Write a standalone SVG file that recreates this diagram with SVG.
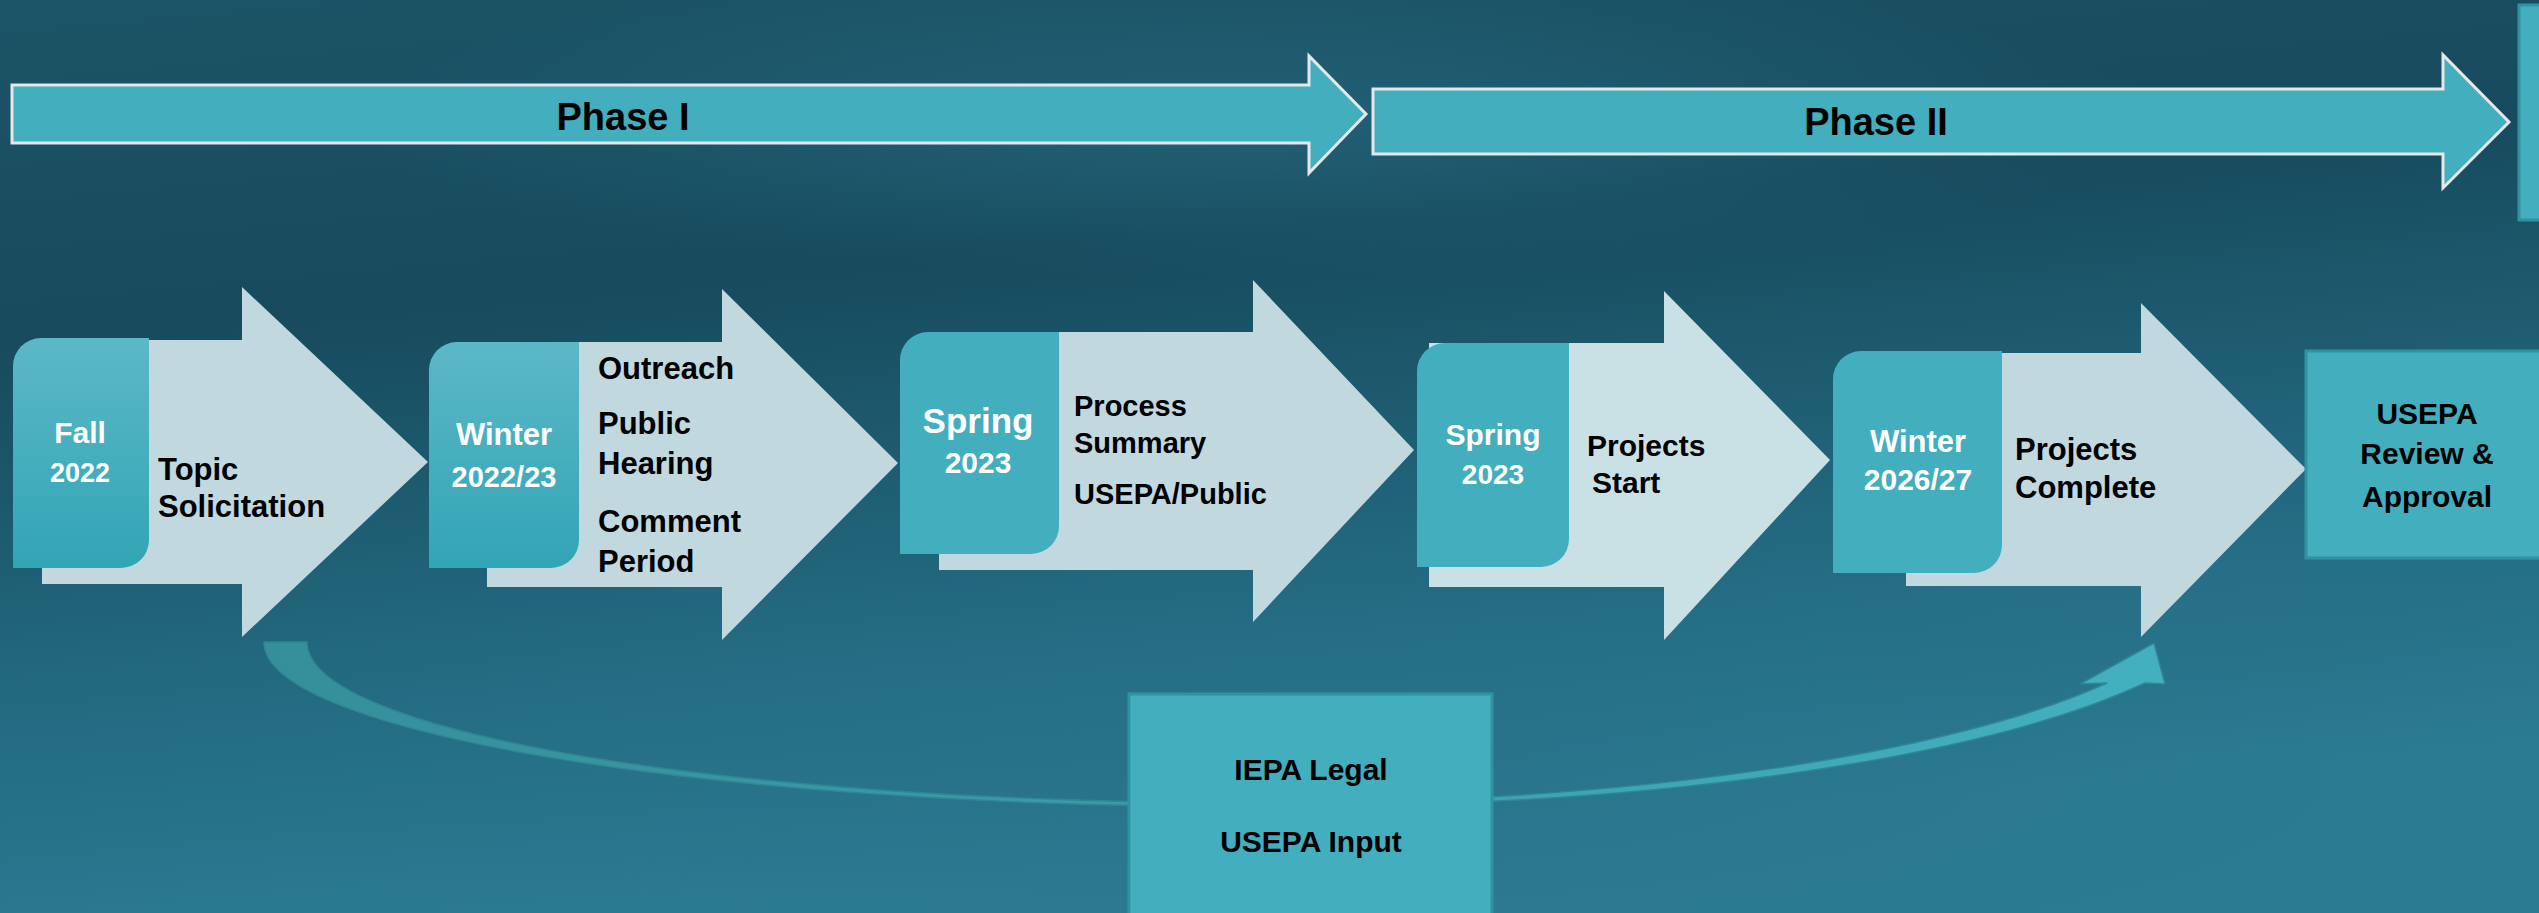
<svg xmlns="http://www.w3.org/2000/svg" width="2539" height="913" viewBox="0 0 2539 913">
<defs>
<linearGradient id="bg" x1="0" y1="0" x2="0.25" y2="1">
<stop offset="0" stop-color="#1c5567"/>
<stop offset="0.35" stop-color="#174a5c"/>
<stop offset="0.7" stop-color="#22687e"/>
<stop offset="1" stop-color="#2a7c93"/>
</linearGradient>
<radialGradient id="glow1" cx="0.5" cy="0.5" r="0.5">
<stop offset="0" stop-color="#2a7088" stop-opacity="0.55"/>
<stop offset="1" stop-color="#2a7088" stop-opacity="0"/>
</radialGradient>
<linearGradient id="boxg" x1="0" y1="0" x2="0" y2="1">
<stop offset="0" stop-color="#5cb8c7"/>
<stop offset="1" stop-color="#31a5b5"/>
</linearGradient>
<linearGradient id="curveg" x1="264" y1="0" x2="2165" y2="0" gradientUnits="userSpaceOnUse">
<stop offset="0" stop-color="#358f9b"/>
<stop offset="0.5" stop-color="#3a9dab"/>
<stop offset="1" stop-color="#43b0c0"/>
</linearGradient>
<style>
.phase{fill:#42aebe;stroke:#e4e8e8;stroke-width:3}
.chev{fill:#c0d8de}
.chev2{fill:#c9e0e5}
.box{fill:#42aebe}
.boxg{fill:url(#boxg)}
.sq{fill:#42aebe;stroke:#2f93a1;stroke-width:3}
.t{font-family:"Liberation Sans",Arial,sans-serif;font-weight:bold;fill:#000}
.w{font-family:"Liberation Sans",Arial,sans-serif;font-weight:bold;fill:#fff;text-anchor:middle}
.c{text-anchor:middle}
</style>
</defs>
<rect x="0" y="0" width="2539" height="913" fill="url(#bg)"/>
<ellipse cx="1250" cy="120" rx="900" ry="160" fill="url(#glow1)"/>
<ellipse cx="1300" cy="780" rx="1100" ry="200" fill="url(#glow1)"/>
<ellipse cx="2200" cy="620" rx="500" ry="120" fill="url(#glow1)"/>

<g id="phase1">
<polygon class="phase" points="12,85 1309,85 1309,56 1366,114 1309,173 1309,143 12,143"/>
<text class="t c" x="623" y="130" font-size="38">Phase I</text>
</g>
<g id="phase2">
<polygon class="phase" points="1373,89 2443,89 2443,55 2509,122 2443,188 2443,154 1373,154"/>
<text class="t c" x="1876" y="135" font-size="38">Phase II</text>
</g>
<g id="edge-box">
<rect class="sq" x="2519" y="5" width="30" height="215"/>
</g>

<g id="connectors">
<path d="M264,642 C264,733 712,807 1264,807 C1650,807 1980,760 2145,683 L2165,684 L2154,643 L2080,684 L2107,683 C1960,750 1650,803 1264,803 C730,803 307,733 307,642 Z" fill="url(#curveg)" stroke="#2e8793" stroke-width="1.5"/>
</g>

<g id="step1">
<polygon class="chev" points="42,340 242,340 242,287 428,462 242,637 242,584 42,584"/>
<path class="boxg" d="M41,338 H149 V540 A28,28 0 0 1 121,568 H13 V366 A28,28 0 0 1 41,338 Z"/>
<text class="w" x="80" y="443" font-size="30">Fall</text>
<text class="w" x="80" y="482" font-size="27">2022</text>
<text class="t" x="158" y="480" font-size="31">Topic</text>
<text class="t" x="158" y="517" font-size="31">Solicitation</text>
</g>

<g id="step2">
<polygon class="chev" points="487,342 722,342 722,289 898,463 722,640 722,587 487,587"/>
<path class="boxg" d="M457,342 H579 V540 A28,28 0 0 1 551,568 H429 V370 A28,28 0 0 1 457,342 Z"/>
<text class="w" x="504" y="445" font-size="31">Winter</text>
<text class="w" x="504" y="487" font-size="29">2022/23</text>
<text class="t" x="598" y="379" font-size="31">Outreach</text>
<text class="t" x="598" y="434" font-size="31">Public</text>
<text class="t" x="598" y="474" font-size="31">Hearing</text>
<text class="t" x="598" y="532" font-size="31">Comment</text>
<text class="t" x="598" y="572" font-size="31">Period</text>
</g>

<g id="step3">
<polygon class="chev" points="939,332 1253,332 1253,280 1414,450 1253,622 1253,570 939,570"/>
<path class="box" d="M928,332 H1059 V526 A28,28 0 0 1 1031,554 H900 V360 A28,28 0 0 1 928,332 Z"/>
<text class="w" x="978" y="433" font-size="35">Spring</text>
<text class="w" x="978" y="473" font-size="30">2023</text>
<text class="t" x="1074" y="416" font-size="29">Process</text>
<text class="t" x="1074" y="453" font-size="29">Summary</text>
<text class="t" x="1074" y="504" font-size="29">USEPA/Public</text>
</g>

<g id="step4">
<polygon class="chev2" points="1429,343 1664,343 1664,291 1830,460 1664,640 1664,587 1429,587"/>
<path class="box" d="M1445,343 H1569 V539 A28,28 0 0 1 1541,567 H1417 V371 A28,28 0 0 1 1445,343 Z"/>
<text class="w" x="1493" y="445" font-size="30">Spring</text>
<text class="w" x="1493" y="484" font-size="28">2023</text>
<text class="t" x="1587" y="456" font-size="30">Projects</text>
<text class="t" x="1592" y="493" font-size="30">Start</text>
</g>

<g id="step5">
<polygon class="chev" points="1906,353 2141,353 2141,303 2306,469 2141,637 2141,586 1906,586"/>
<path class="box" d="M1861,351 H2002 V545 A28,28 0 0 1 1974,573 H1833 V379 A28,28 0 0 1 1861,351 Z"/>
<text class="w" x="1918" y="452" font-size="31">Winter</text>
<text class="w" x="1918" y="490" font-size="30">2026/27</text>
<text class="t" x="2015" y="460" font-size="31">Projects</text>
<text class="t" x="2015" y="498" font-size="31">Complete</text>
</g>

<g id="approval">
<rect class="sq" x="2306" y="351" width="250" height="207"/>
<text class="t c" x="2427" y="424" font-size="30">USEPA</text>
<text class="t c" x="2427" y="464" font-size="30">Review &amp;</text>
<text class="t c" x="2427" y="507" font-size="30">Approval</text>
</g>

<g id="input">
<rect class="sq" x="1129" y="694" width="363" height="240"/>
<text class="t c" x="1311" y="780" font-size="30">IEPA Legal</text>
<text class="t c" x="1311" y="852" font-size="30">USEPA Input</text>
</g>
</svg>
